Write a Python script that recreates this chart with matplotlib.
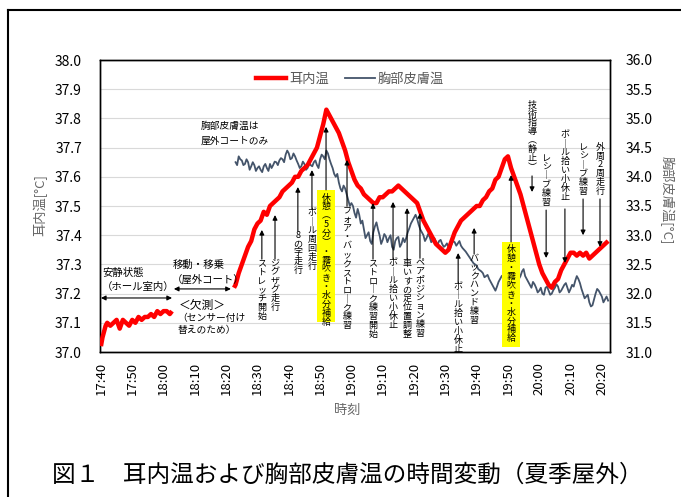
import numpy as np
import matplotlib
matplotlib.use("Agg")
import matplotlib.pyplot as plt
from matplotlib.patches import Rectangle
from matplotlib.lines import Line2D

plt.rcParams["font.family"] = ["Noto Sans CJK JP", "DejaVu Sans"]

# ─────────────────────────────────────────────
# Data  (time = minutes after 17:40)
# ─────────────────────────────────────────────
tick_minutes = list(range(0, 161, 10))
tick_labels = ["17:40", "17:50", "18:00", "18:10", "18:20", "18:30", "18:40", "18:50",
               "19:00", "19:10", "19:20", "19:30", "19:40", "19:50", "20:00", "20:10", "20:20"]

# ear temperature, indoor rest part
ear_t1 = [0, 0.5, 1, 1.5, 2, 3, 4, 5, 6, 7, 8, 9, 10, 11, 12, 13, 14, 15, 16, 17,
          18, 19, 20, 21, 22, 22.7]
ear_v1 = [37.02, 37.05, 37.07, 37.09, 37.10, 37.09, 37.10, 37.11, 37.08, 37.11,
          37.10, 37.09, 37.11, 37.10, 37.12, 37.11, 37.12, 37.12, 37.13, 37.12,
          37.14, 37.13, 37.14, 37.14, 37.13, 37.14]

# ear temperature, outdoor court part
ear_t2 = [42.5] + list(range(43, 163))
ear_v2 = [37.22,
          37.23, 37.27, 37.30, 37.33, 37.36, 37.38, 37.42, 37.44, 37.45, 37.48,
          37.47, 37.50, 37.51, 37.52, 37.53, 37.55, 37.56, 37.57, 37.58, 37.60,
          37.60, 37.62, 37.63, 37.64, 37.66, 37.68, 37.70, 37.74, 37.78, 37.83,
          37.81, 37.79, 37.77, 37.75, 37.72, 37.69, 37.65, 37.62, 37.59, 37.57,
          37.56, 37.54, 37.53, 37.52, 37.51, 37.51, 37.53, 37.53, 37.54, 37.55,
          37.55, 37.56, 37.57, 37.56, 37.55, 37.54, 37.53, 37.52, 37.51, 37.48,
          37.45, 37.43, 37.41, 37.39, 37.37, 37.36, 37.35, 37.34, 37.35, 37.38,
          37.41, 37.43, 37.45, 37.46, 37.47, 37.48, 37.49, 37.50, 37.50, 37.52,
          37.53, 37.55, 37.56, 37.59, 37.60, 37.63, 37.66, 37.67, 37.63, 37.60,
          37.57, 37.54, 37.50, 37.46, 37.42, 37.38, 37.34, 37.30, 37.27, 37.25,
          37.23, 37.22, 37.24, 37.25, 37.28, 37.30, 37.32, 37.34, 37.34, 37.33,
          37.34, 37.33, 37.34, 37.32, 37.33, 37.34, 37.35, 37.36, 37.37, 37.38]

# chest skin temperature (outdoor court only), whole minutes 43..162
chest_v = [34.25, 34.35, 34.28, 34.22, 34.25, 34.18, 34.20, 34.15, 34.12, 34.18,
           34.15, 34.22, 34.20, 34.25, 34.28, 34.30, 34.38, 34.40, 34.32, 34.35,
           34.22, 34.18, 34.22, 34.15, 34.20, 34.25, 34.20, 34.30, 34.35, 34.45,
           34.30, 34.15, 34.00, 33.90, 33.75, 33.80, 33.60, 33.55, 33.38, 33.45,
           33.20, 33.10, 33.00, 32.90, 33.05, 33.22, 33.00, 32.92, 32.98, 32.95,
           32.80, 32.90, 32.97, 32.85, 32.88, 33.05, 33.20, 33.30, 33.28, 33.10,
           33.00, 32.95, 32.97, 32.92, 32.88, 32.90, 32.85, 32.82, 32.80, 32.85,
           32.88, 32.86, 32.82, 32.75, 32.68, 32.60, 32.52, 32.48, 32.40, 32.35,
           32.30, 32.25, 32.15, 32.05, 32.20, 32.30, 32.25, 32.40, 32.32, 32.28,
           32.35, 32.30, 32.42, 32.25, 32.15, 32.20, 32.10, 32.05, 32.00, 32.10,
           32.05, 32.00, 32.10, 32.12, 32.05, 32.15, 32.10, 32.08, 32.12, 32.30,
           32.18, 32.00, 31.95, 31.85, 31.80, 32.00, 32.05, 31.95, 31.90, 31.88]
# chest skin temperature read at the half minutes 43.5..161.5
chest_v_half = [34.20, 34.30, 34.20, 34.30, 34.12, 34.25, 34.10, 34.18, 34.08, 34.22,
                34.10, 34.15, 34.26, 34.20, 34.32, 34.25, 34.45, 34.30, 34.40, 34.28,
                34.15, 34.26, 34.12, 34.25, 34.18, 34.28, 34.15, 34.38, 34.30, 34.40,
                34.22, 34.05, 34.05, 33.80, 33.85, 33.70, 33.50, 33.50, 33.30, 33.35,
                33.25, 32.95, 33.05, 32.85, 33.15, 33.10, 32.85, 33.02, 32.88, 33.00,
                32.75, 32.95, 32.80, 32.95, 32.95, 33.12, 33.25, 33.35, 33.18, 33.05,
                32.90, 33.02, 32.88, 32.95, 32.83, 32.92, 32.80, 32.86, 32.76, 32.90,
                32.82, 32.90, 32.78, 32.72, 32.64, 32.56, 32.50, 32.42, 32.38, 32.28,
                32.32, 32.20, 32.10, 32.12, 32.25, 32.32, 32.30, 32.35, 32.26, 32.33,
                32.25, 32.38, 32.30, 32.20, 32.10, 32.16, 32.02, 32.10, 31.98, 32.12,
                31.98, 32.06, 32.16, 32.02, 32.10, 32.18, 32.02, 32.15, 32.22, 32.25,
                32.08, 31.92, 31.98, 31.78, 31.90, 32.08, 32.00, 31.85, 31.95]

# event labels: (text, time, arrow head, arrow tail / text top)
up_events = [
    ("ストレッチ開始", 51.4, 37.418, 37.322),
    ("ジグザグ走行", 55.6, 37.469, 37.322),
    ("8の字走行", 62.9, 37.565, 37.418),
    ("ボール周回走行", 67.4, 37.623, 37.493),
    ("フォア・バックストローク練習", 78.6, 37.658, 37.503),
    ("ストローク練習開始", 86.9, 37.510, 37.322),
    ("ボール拾い小休止", 93.3, 37.514, 37.322),
    ("車いすの足位置調整", 97.8, 37.493, 37.322),
    ("ペアポジション練習", 101.9, 37.476, 37.325),
    ("ボール拾い小休止", 114.1, 37.339, 37.240),
    ("バックハンド練習", 119.2, 37.425, 37.339),
]
# (text, time, text top, arrow tail, arrow head)
down_events = [
    ("技術指導（静止）", 137.7, 37.863, 37.603, 37.548),
    ("レシーブ練習", 142.2, 37.682, 37.486, 37.322),
    ("ボール拾い小休止", 148.2, 37.760, 37.490, 37.305),
    ("レシーブ練習", 154.0, 37.719, 37.524, 37.400),
    ("外周2周走行", 159.4, 37.719, 37.524, 37.360),
]
# rest breaks: (text, time, arrow head, box top, box bottom)
rest_events = [
    ("休憩（5分）・霧吹き・水分補給", 71.9, 37.771, 37.555, 37.103),
    ("休憩・霧吹き・水分補給", 131.0, 37.606, 37.377, 37.017),
]

VERT = {"（": "︵", "）": "︶", "ー": "｜"}


def vtext(ax, x, y, s, size=6.5, step=6.4, clip=False):
    """Stack characters top-to-bottom to mimic vertical writing."""
    for i, ch in enumerate(s):
        ax.annotate(VERT.get(ch, ch), xy=(x, y), xytext=(0, -(i + 0.86) * step),
                    textcoords="offset points", ha="center", va="baseline",
                    fontsize=size, color="black", annotation_clip=False,
                    clip_on=clip, zorder=6)


def arrow(ax, x, y_from, y_to):
    ax.annotate("", xy=(x, y_to), xytext=(x, y_from),
                arrowprops=dict(arrowstyle="-|>", color="black", lw=0.8,
                                mutation_scale=7, shrinkA=0, shrinkB=0),
                zorder=6)


fig = plt.figure(figsize=(6.81, 4.97), dpi=100)
fig.patch.set_facecolor("white")

ax = fig.add_axes([100 / 681, 1 - 352 / 497, 510 / 681, 292 / 497])
ax2 = ax.twinx()
ax.set_zorder(ax2.get_zorder() + 1)
ax.patch.set_visible(False)

# chest (secondary axis, drawn underneath)
chest_pts = sorted(list(zip(range(43, 163), chest_v)) +
                   list(zip(np.arange(43.5, 162, 1.0), chest_v_half)))
ax2.plot([p[0] for p in chest_pts], [p[1] for p in chest_pts],
         color="#44546A", lw=1.3, zorder=2)
ax2.set_ylim(31.0, 36.0)
ax2.set_yticks(np.arange(31.0, 36.01, 0.5))
ax2.yaxis.set_major_formatter(plt.FuncFormatter(lambda v, _: f"{v:.1f}"))
ax2.grid(True, color="#d9d9d9", lw=0.8)
ax2.set_axisbelow(True)

# ear (primary axis)
ax.plot(ear_t1, ear_v1, color="#FF0000", lw=3.2, solid_capstyle="butt", zorder=3)
ax.plot(ear_t2, ear_v2, color="#FF0000", lw=3.2, solid_capstyle="butt", zorder=3)
ax.set_ylim(37.0, 38.0)
ax.set_yticks(np.arange(37.0, 38.01, 0.1))
ax.yaxis.set_major_formatter(plt.FuncFormatter(lambda v, _: f"{v:.1f}"))
ax.set_xlim(-0.3, 162.6)
ax.set_xticks(tick_minutes)
ax.set_xticklabels(tick_labels, rotation=90)

ax.tick_params(axis="x", length=0, pad=7, labelsize=9.5)
ax.tick_params(axis="y", length=0, pad=13, labelsize=10)
ax2.tick_params(axis="y", length=0, pad=11, labelsize=10)
for a in (ax, ax2):
    for sp in a.spines.values():
        sp.set_color("black")
        sp.set_linewidth(1.0)

# legend
legend_handles = [Line2D([], [], color="#FF0000", lw=3.2),
                  Line2D([], [], color="#44546A", lw=1.3)]
ax.legend(legend_handles, ["耳内温", "胸部皮膚温"], loc="center",
          bbox_to_anchor=(0.49, 0.935), ncol=2, frameon=False, fontsize=9.5,
          handlelength=2.3, handletextpad=0.2, columnspacing=1.2,
          labelcolor="#595959")

# events
for s, x, head, top in up_events:
    arrow(ax, x, top - 0.004, head)
    vtext(ax, x, top, s, clip=True)

for s, x, top, tail, head in down_events:
    vtext(ax, x, top, s)
    arrow(ax, x, tail, head)

for s, x, head, box_top, box_bot in rest_events:
    arrow(ax, x, box_top, head)
    ax.add_patch(Rectangle((x - 2.75, box_bot), 5.5, box_top - box_bot,
                           facecolor="#FFFF00", edgecolor="none", zorder=5))
    vtext(ax, x, box_top - 0.01, s)

# free text notes
ax.text(31.9, 37.774, "胸部皮膚温は", fontsize=7, va="center", ha="left", zorder=6)
ax.text(31.9, 37.723, "屋外コートのみ", fontsize=7, va="center", ha="left", zorder=6)
ax.text(0.6, 37.271, "安静状態", fontsize=7.5, va="center", ha="left", zorder=6)
ax.text(0.2, 37.223, "（ホール室内）", fontsize=7.5, va="center", ha="left", zorder=6)
ax.text(23.0, 37.298, "移動・移乗", fontsize=7.5, va="center", ha="left", zorder=6)
ax.text(22.6, 37.247, "（屋外コート）", fontsize=7.5, va="center", ha="left", zorder=6)
ax.text(25.0, 37.158, "＜欠測＞", fontsize=8.5, va="center", ha="left", zorder=6)
ax.text(24.3, 37.116, "（センサー付け", fontsize=7, va="center", ha="left", zorder=6)
ax.text(24.6, 37.075, "替えのため）", fontsize=7, va="center", ha="left", zorder=6)
for x0, x1, y in [(0.0, 22.7, 37.185), (23.3, 41.5, 37.216)]:
    ax.annotate("", xy=(x1, y), xytext=(x0, y),
                arrowprops=dict(arrowstyle="<|-|>", color="black", lw=0.8,
                                mutation_scale=7, shrinkA=0, shrinkB=0),
                zorder=6, annotation_clip=False)

# axis titles
fig.text(40 / 681, 1 - 205 / 497, "耳内温[°C]", rotation=90, ha="center",
         va="center", fontsize=9.5, color="#666666")
fig.text(667 / 681, 1 - 200 / 497, "胸部皮膚温[°C]", rotation=270, ha="center",
         va="center", fontsize=9.5, color="#666666")
fig.text(347 / 681, 1 - 410 / 497, "時刻", ha="center", va="center",
         fontsize=9.5, color="#666666")

# caption and outer frame
fig.text(52 / 681, 1 - 475 / 497, "図１　耳内温および胸部皮膚温の時間変動（夏季屋外）",
         ha="left", va="center", fontsize=17, color="black")
fig.add_artist(Line2D([8 / 681, 8 / 681], [0, 1 - 10 / 497], color="black", lw=1.5))
fig.add_artist(Line2D([8 / 681, 1], [1 - 10 / 497, 1 - 10 / 497], color="black", lw=1.5))

fig.savefig("out.png", dpi=100)
